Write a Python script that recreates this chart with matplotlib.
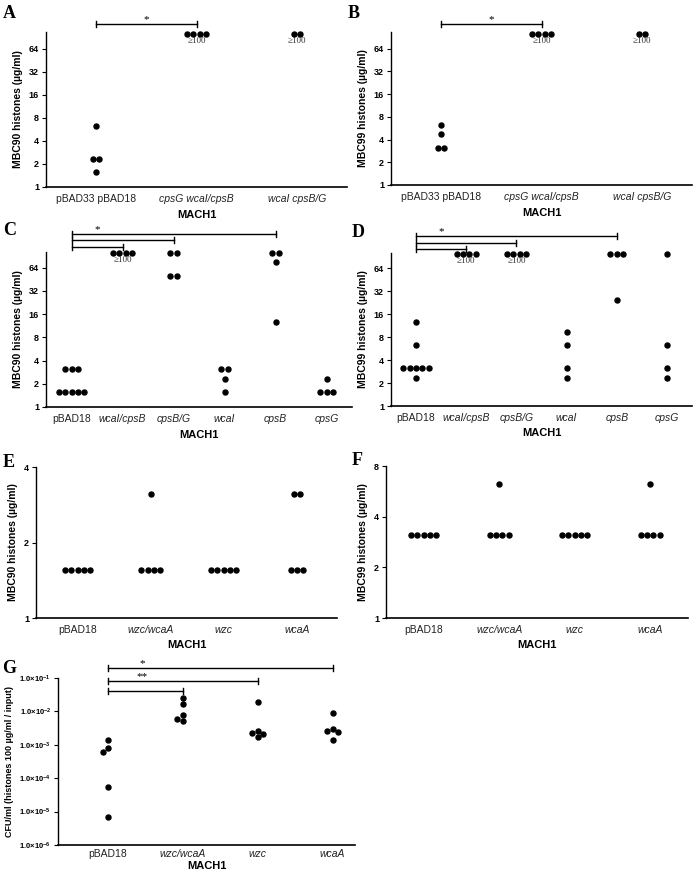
import numpy as np
import matplotlib
matplotlib.use("Agg")
import matplotlib.pyplot as plt
from matplotlib.transforms import blended_transform_factory

plt.rcParams['font.family'] = ['Liberation Sans', 'DejaVu Sans']
plt.rcParams['mathtext.fontset'] = 'custom'
plt.rcParams['mathtext.rm'] = 'Liberation Sans'
plt.rcParams['mathtext.bf'] = 'Liberation Sans:bold'

# ---- data ----
labels_ab = ["pBAD33 pBAD18", "cpsG wcaI/cpsB", "wcaI cpsB/G"]
italic_ab = [False, True, True]
a_vals = [[6.25, 2.34, 2.34, 1.56], [100, 100, 100, 100], [100, 100]]
b_vals = [[6.25, 4.69, 3.125, 3.125], [100, 100, 100, 100], [100, 100]]
ge100_ab = [False, True, True]

labels_cd = ["pBAD18", "wcaI/cpsB", "cpsB/G", "wcaI", "cpsB", "cpsG"]
italic_cd = [False, True, True, True, True, True]
c_vals = [[3.125, 3.125, 3.125, 1.56, 1.56, 1.56, 1.56, 1.56],
          [100, 100, 100, 100],
          [100, 100, 50, 50],
          [3.125, 3.125, 2.34, 1.56],
          [100, 100, 75, 12.5],
          [2.34, 1.56, 1.56, 1.56]]
d_vals = [[12.5, 6.25, 3.125, 3.125, 3.125, 3.125, 3.125, 2.34],
          [100, 100, 100, 100],
          [100, 100, 100, 100],
          [9.375, 6.25, 3.125, 2.34],
          [100, 100, 100, 25],
          [100, 6.25, 3.125, 2.34]]
ge100_c = [False, True, False, False, False, False]
ge100_d = [False, True, True, False, False, False]

labels_efg = ["pBAD18", "wzc/wcaA", "wzc", "wcaA"]
italic_efg = [False, True, True, True]
e_vals = [[1.56, 1.56, 1.56, 1.56, 1.56],
          [3.125, 1.56, 1.56, 1.56, 1.56],
          [1.56, 1.56, 1.56, 1.56, 1.56],
          [3.125, 3.125, 1.56, 1.56, 1.56]]
f_vals = [[3.125, 3.125, 3.125, 3.125, 3.125],
          [6.25, 3.125, 3.125, 3.125, 3.125],
          [3.125, 3.125, 3.125, 3.125, 3.125],
          [6.25, 3.125, 3.125, 3.125, 3.125]]
g_vals = [[1.4e-3, 8.1e-4, 6.3e-4, 5.6e-5, 7e-6],
          [2.6e-2, 1.66e-2, 7.9e-3, 5.2e-3, 6.0e-3],
          [1.9e-2, 2.6e-3, 2.3e-3, 2.1e-3, 1.7e-3],
          [8.9e-3, 3.0e-3, 2.6e-3, 2.5e-3, 1.35e-3]]
g_ticks = [1e-6, 1e-5, 1e-4, 1e-3, 1e-2, 1e-1]
g_ticklabels = [r'$\mathbf{1.0{\times}10^{-%d}}$' % k for k in [6, 5, 4, 3, 2, 1]]

W, H = 695, 877
fig = plt.figure(figsize=(W / 100, H / 100), dpi=100)


def make_axes(l, t, r, b):
    ax = fig.add_axes([l / W, 1 - b / H, (r - l) / W, (b - t) / H])
    ax.spines['top'].set_visible(False)
    ax.spines['right'].set_visible(False)
    ax.spines['left'].set_linewidth(1.0)
    ax.spines['bottom'].set_linewidth(1.2)
    ax.tick_params(axis='x', length=0, pad=5, labelsize=7.5, labelcolor='#222222')
    ax.tick_params(axis='y', length=3, width=0.8, pad=2, labelsize=6.5)
    ax.minorticks_off()
    ax._px = (l, t, r, b)
    return ax


def setup(ax, labels, italics, ylabel, xlim, ysize=7.5, lpad=4):
    ax.set_xlim(*xlim)
    ax.set_xticks(range(len(labels)))
    ax.set_xticklabels(labels)
    for lbl, it in zip(ax.get_xticklabels(), italics):
        lbl.set_fontstyle('italic' if it else 'normal')
    ax.set_xlabel('MACH1', fontsize=8, fontweight='bold', labelpad=lpad)
    ax.set_ylabel(ylabel, fontsize=ysize, fontweight='bold', labelpad=4)


def log2_axis(ax, top, ticks):
    ax.set_yscale('log', base=2)
    ax.set_ylim(1, top)
    ax.set_yticks(ticks)
    ax.set_yticklabels([str(t) for t in ticks], fontweight='bold')
    ax.minorticks_off()


def dots_centered(ax, vals, step_px=6.3):
    l, t, r, b = ax._px
    x0, x1 = ax.get_xlim()
    step = step_px / ((r - l) / (x1 - x0))
    for i, v in enumerate(vals):
        for u in sorted(set(v)):
            n = v.count(u)
            xs = [i + (k - (n - 1) / 2) * step for k in range(n)]
            ax.plot(xs, [u] * n, 'o', color='k', ms=3.6, clip_on=False, zorder=3)


def dots_swarm(ax, vals, step_px=5.5, dot_px=5.6):
    l, t, r, b = ax._px
    x0, x1 = ax.get_xlim()
    y0, y1 = ax.get_ylim()
    xs_unit = (r - l) / (x1 - x0)
    ys_unit = (b - t) / (np.log10(y1) - np.log10(y0))
    for i, v in enumerate(vals):
        placed = []
        for u in v:
            py = np.log10(u) * ys_unit
            for k in [0, -1, 1, -2, 2]:
                px = k * step_px
                if all((px - qx) ** 2 + (py - qy) ** 2 >= dot_px ** 2 for qx, qy in placed):
                    break
            placed.append((px, py))
            ax.plot(i + px / xs_unit, u, 'o', color='k', ms=3.6, clip_on=False, zorder=3)


def ge100(ax, flags, value):
    for i, f in enumerate(flags):
        if f:
            ax.annotate('\u2265100', (i, value), xytext=(0, -2.5), textcoords='offset points',
                        ha='center', va='top', fontsize=6.5, family='Liberation Serif',
                        color='#333333', annotation_clip=False)


def bracket(ax, i0, i1, dy_px, star=None, star_at=0.5):
    l, t, r, b = ax._px
    tr = blended_transform_factory(ax.transData, ax.transAxes)
    y = 1 + dy_px / (b - t)
    cap = 2.7 / (b - t)
    kw = dict(color='k', lw=1.0, transform=tr, clip_on=False)
    ax.plot([i0, i1], [y, y], **kw)
    ax.plot([i0, i0], [y - cap, y + cap], **kw)
    ax.plot([i1, i1], [y - cap, y + cap], **kw)
    if star:
        ax.text(i0 + star_at * (i1 - i0), y, star,
                transform=tr, ha='center', va='bottom', fontsize=8,
                family='Liberation Serif')


ticks_ab = [1, 2, 4, 8, 16, 32, 64]

# A
ax = make_axes(46, 32, 347, 187)
setup(ax, labels_ab, italic_ab, 'MBC90 histones (\u00b5g/ml)', (-0.5, 2.5))
log2_axis(ax, 106, ticks_ab)
dots_centered(ax, a_vals)
ge100(ax, ge100_ab, 100)
bracket(ax, 0, 1, 8, '*')

# B
ax = make_axes(391, 32, 692, 185)
setup(ax, labels_ab, italic_ab, 'MBC99 histones (\u00b5g/ml)', (-0.5, 2.5))
log2_axis(ax, 106, ticks_ab)
dots_centered(ax, b_vals)
ge100(ax, ge100_ab, 100)
bracket(ax, 0, 1, 8, '*')

# C
ax = make_axes(46, 252, 352, 407)
setup(ax, labels_cd, italic_cd, 'MBC90 histones (\u00b5g/ml)', (-0.5, 5.5))
log2_axis(ax, 102, ticks_ab)
dots_centered(ax, c_vals)
ge100(ax, ge100_c, 100)
bracket(ax, 0, 4, 18, '*', star_at=0.125)
bracket(ax, 0, 2, 12)
bracket(ax, 0, 1, 5)

# D
ax = make_axes(391, 253, 692, 406)
setup(ax, labels_cd, italic_cd, 'MBC99 histones (\u00b5g/ml)', (-0.5, 5.5))
log2_axis(ax, 102, ticks_ab)
dots_centered(ax, d_vals)
ge100(ax, ge100_d, 100)
bracket(ax, 0, 4, 17, '*', star_at=0.125)
bracket(ax, 0, 2, 10)
bracket(ax, 0, 1, 4)

# E
ax = make_axes(36, 467, 337, 618)
setup(ax, labels_efg, italic_efg, 'MBC90 histones (\u00b5g/ml)', (-0.57, 3.55))
log2_axis(ax, 4, [1, 2, 4])
dots_centered(ax, e_vals)

# F
ax = make_axes(386, 466, 688, 618)
setup(ax, labels_efg, italic_efg, 'MBC99 histones (\u00b5g/ml)', (-0.5, 3.5))
log2_axis(ax, 8, [1, 2, 4, 8])
dots_centered(ax, f_vals)

# G
ax = make_axes(58, 678, 355, 845)
setup(ax, labels_efg, italic_efg, 'CFU/ml (histones 100 \u00b5g/ml / input)', (-0.67, 3.3),
      ysize=6.5, lpad=1)
ax.tick_params(axis='x', pad=3)
ax.set_yscale('log')
ax.set_ylim(1e-6, 1e-1)
ax.set_yticks(g_ticks)
ax.set_yticklabels(g_ticklabels)
ax.minorticks_off()
ax.tick_params(axis='y', labelsize=5.5)
dots_swarm(ax, g_vals)
bracket(ax, 0, 3, 10, '*', star_at=0.15)
bracket(ax, 0, 2, -3, '**', star_at=0.225)
bracket(ax, 0, 1, -13)

# panel letters
for letter, x, y in [('A', 3, 18), ('B', 348, 18), ('C', 3, 235), ('D', 352, 237),
                     ('E', 3, 467), ('F', 352, 465), ('G', 2, 673)]:
    fig.text(x / W, 1 - y / H, letter, fontsize=13, fontweight='bold',
             family='Liberation Serif', ha='left', va='baseline')

fig.savefig('out.png', dpi=100)
